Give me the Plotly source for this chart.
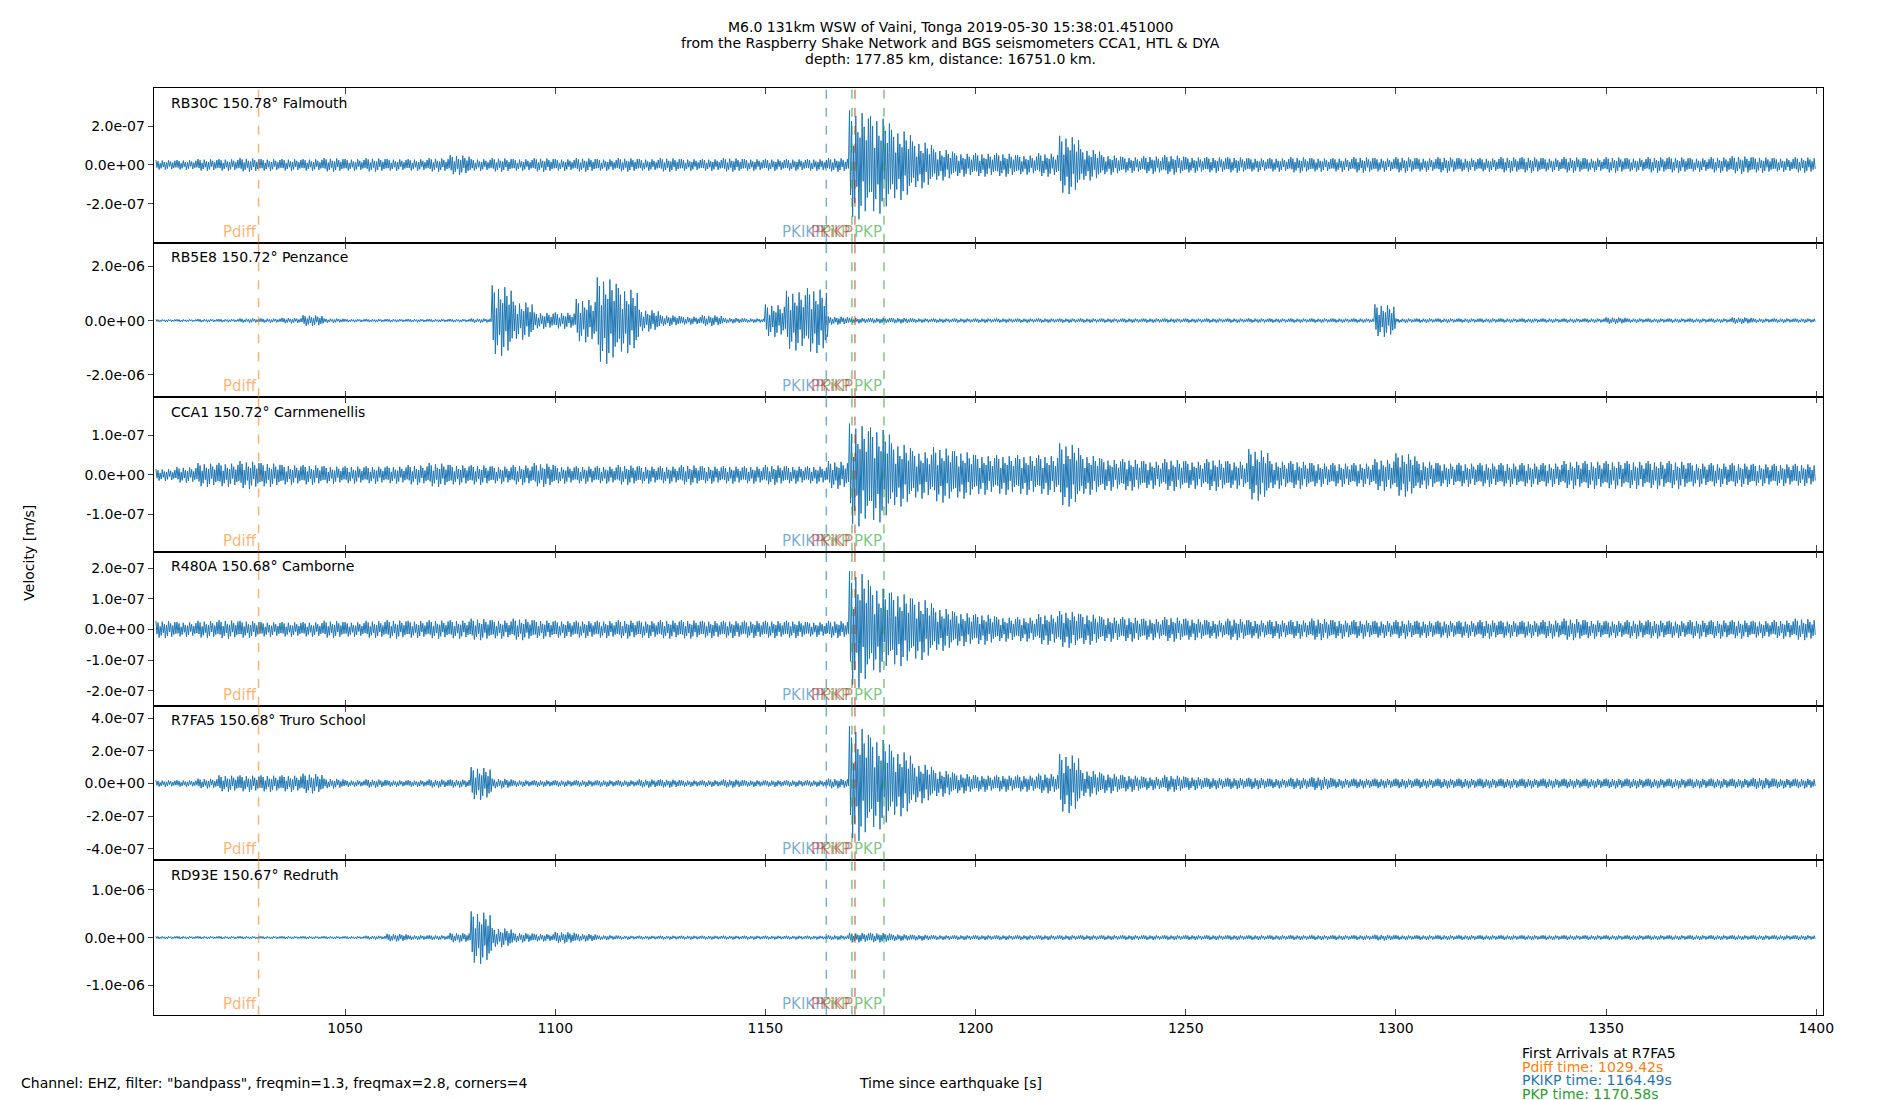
import plotly.graph_objects as go

# station labels
stations = ["RB30C 150.78° Falmouth", "RB5E8 150.72° Penzance", "CCA1 150.72° Carnmenellis",
            "R480A 150.68° Camborne", "R7FA5 150.68° Truro School", "RD93E 150.67° Redruth"]
# amplitude scale per station (m/s) and y ranges
scales = [1e-7, 1e-6, 1e-7, 1e-7, 1e-7, 1e-6]
yranges = [[-4.0e-7, 3.94e-7], [-2.83e-6, 2.88e-6], [-1.94e-7, 1.97e-7],
           [-2.5e-7, 2.54e-7], [-4.7e-7, 4.74e-7], [-1.62e-6, 1.62e-6]]
ytickvals = [[-2e-7, 0, 2e-7], [-2e-6, 0, 2e-6], [-1e-7, 0, 1e-7],
             [-2e-7, -1e-7, 0, 1e-7, 2e-7], [-4e-7, -2e-7, 0, 2e-7, 4e-7], [-1e-6, 0, 1e-6]]
yticktext = [["-2.0e-07", "0.0e+00", "2.0e-07"], ["-2.0e-06", "0.0e+00", "2.0e-06"],
             ["-1.0e-07", "0.0e+00", "1.0e-07"],
             ["-2.0e-07", "-1.0e-07", "0.0e+00", "1.0e-07", "2.0e-07"],
             ["-4.0e-07", "-2.0e-07", "0.0e+00", "2.0e-07", "4.0e-07"],
             ["-1.0e-06", "0.0e+00", "1.0e-06"]]

# envelope amplitudes (in units of scale) read per 5 s bin starting at 1005 s
bin_start = 1005.0
bin_width = 5.0
env1 = [.25,.25,.3,.3,.35,.3,.3,.3,.35,.3, .35,.3,.3,.35,.5,.3,.35,.3,.35,.3,
        .35,.3,.35,.3,.35,.3,.3,.35,.3,.3, .3,.3,.35,2.8,2.5,1.8,1.2,.8,.6,.6,
        .6,.5,.6,1.5,.8,.5,.4,.45,.5,.4, .4,.4,.35,.35,.4,.35,.35,.4,.35,.4,
        .35,.4,.35,.35,.4,.4,.35,.4,.35,.4, .35,.4,.4,.35,.4,.45,.4,.35,.4]
env2 = [.05,.05,.06,.06,.08,.08,.1,.2,.08,.06, .06,.06,.06,.06,.06,.08,1.3,.7,.3,.3,
        .8,1.6,1.2,.4,.2,.15,.2,.1,.08,.6, 1.1,1.2,.15,.1,.1,.1,.08,.08,.08,.08,
        .08,.08,.08,.08,.08,.08,.08,.08,.08,.08, .08,.08,.08,.08,.08,.08,.08,.08,.6,.08,
        .08,.08,.08,.08,.08,.08,.08,.08,.08,.12, .08,.08,.08,.08,.08,.12,.08,.08,.08]
env3 = [.15,.2,.3,.3,.35,.3,.25,.25,.22,.22, .22,.22,.25,.3,.25,.25,.22,.25,.3,.22,
        .22,.22,.25,.22,.22,.25,.22,.22,.22,.25, .22,.22,.35,1.3,1.2,.8,.6,.7,.6,.5,
        .5,.5,.5,.8,.5,.4,.4,.35,.4,.35, .4,.35,.65,.35,.35,.3,.3,.3,.4,.55,
        .35,.3,.3,.3,.3,.3,.3,.35,.35,.35, .35,.35,.35,.3,.3,.3,.28,.28,.28]
env4 = [.28,.24,.28,.3,.28,.24,.24,.24,.28,.24, .28,.3,.28,.3,.3,.35,.3,.35,.3,.28,
        .28,.28,.3,.28,.3,.3,.28,.28,.28,.28, .28,.24,.28,1.9,1.4,1.2,1.0,.7,.55,.5,
        .4,.4,.5,.6,.5,.4,.4,.35,.4,.35, .3,.35,.3,.3,.3,.35,.3,.3,.28,.3,
        .28,.28,.28,.3,.28,.28,.3,.35,.3,.28, .3,.3,.28,.3,.3,.3,.28,.3,.35]
env5 = [.2,.2,.3,.5,.5,.5,.5,.6,.3,.2, .25,.2,.2,.25,.25,1.0,.3,.2,.2,.2,
        .2,.2,.2,.25,.25,.2,.2,.25,.2,.2, .2,.2,.3,3.5,2.8,2.0,1.2,.8,.6,.5,
        .5,.5,.6,1.8,.8,.6,.5,.4,.5,.4, .35,.35,.35,.3,.35,.4,.3,.3,.3,.3,
        .3,.3,.3,.3,.3,.3,.3,.3,.3,.3, .3,.3,.3,.3,.3,.3,.35,.3,.3]
env6 = [.03,.03,.03,.03,.03,.03,.03,.03,.03,.03, .04,.08,.05,.05,.1,.55,.2,.1,.08,.12,
        .08,.05,.04,.04,.04,.04,.04,.04,.04,.04, .04,.04,.05,.1,.1,.07,.06,.05,.05,.05,
        .05,.05,.05,.05,.05,.05,.05,.05,.05,.05, .05,.05,.05,.05,.05,.05,.05,.05,.06,.05,
        .05,.05,.05,.05,.05,.05,.05,.05,.05,.05, .05,.05,.05,.05,.05,.05,.05,.05,.05]
envelopes = [env1, env2, env3, env4, env5, env6]
# oscillation texture within each bin (signed fractions of envelope)
texture = [1.0,-0.55,0.8,-0.95,0.35,-0.7,0.9,-0.4,0.6,-1.0,0.5,-0.75,0.95,-0.3,0.7,-0.85,0.45,-0.6,0.85,-0.5]

# arrivals
phase_names = ["Pdiff", "PKIKP", "PKP", "PKiKP", "PKP"]
phase_times = [1029.42, 1164.49, 1170.58, 1171.3, 1178.2]
phase_colors = ["rgba(255,127,14,0.6)", "rgba(31,119,180,0.6)", "rgba(44,160,44,0.6)",
                "rgba(214,39,40,0.6)", "rgba(44,160,44,0.6)"]
xticks = [1050, 1100, 1150, 1200, 1250, 1300, 1350, 1400]
xrange_ = [1004.5, 1401.5]

fig = go.Figure()
n = len(stations)
top, bottom = 0.927, 0.0847
left, right = 0.0772, 0.9606
h = (top - bottom) / n
layout = {}
annotations = []
shapes = []
for i in range(n):
    xs, ys = [], []
    env = envelopes[i]
    nt = len(texture)
    for k, a in enumerate(env):
        for j in range(nt):
            xs.append(bin_start + k * bin_width + j * bin_width / nt)
            ys.append(a * texture[j] * scales[i])
    ax = "" if i == 0 else str(i + 1)
    fig.add_trace(go.Scatter(x=xs, y=ys, mode="lines", line=dict(color="#1f77b4", width=1),
                             xaxis="x" + ax, yaxis="y" + ax, showlegend=False, hoverinfo="skip"))
    d0 = top - (i + 1) * h
    d1 = top - i * h
    layout["xaxis" + ax] = dict(domain=[left, right], anchor="y" + ax, range=xrange_,
                                tickvals=xticks, showticklabels=(i == n - 1), ticks="inside",
                                ticklen=6, showline=True, linecolor="black", linewidth=1.2,
                                mirror="ticks", showgrid=False, zeroline=False,
                                tickfont=dict(size=14, color="black"))
    layout["yaxis" + ax] = dict(domain=[d0, d1], anchor="x" + ax, range=yranges[i],
                                tickvals=ytickvals[i], ticktext=yticktext[i], ticks="outside",
                                ticklen=5, showline=True, linecolor="black", linewidth=1.2,
                                mirror=True, showgrid=False, zeroline=False,
                                tickfont=dict(size=14, color="black"))
    annotations.append(dict(text=stations[i], x=left + 0.008, y=d1 - 0.004, xref="paper", yref="paper",
                            xanchor="left", yanchor="top", showarrow=False,
                            font=dict(size=14, color="black")))
    for pn, pt, pc in zip(phase_names, phase_times, phase_colors):
        shapes.append(dict(type="line", xref="x" + ax, yref="y" + ax + " domain", x0=pt, x1=pt,
                           y0=0, y1=1, line=dict(color=pc, width=1.5, dash="dash")))
        annotations.append(dict(text=pn, x=pt, y=d0, xref="x" + ax, yref="paper",
                                xanchor="right", yanchor="bottom", showarrow=False,
                                font=dict(size=15, color=pc)))

title_lines = ["M6.0 131km WSW of Vaini, Tonga 2019-05-30 15:38:01.451000",
               "from the Raspberry Shake Network and BGS seismometers CCA1, HTL & DYA",
               "depth: 177.85 km, distance: 16751.0 km."]
for k, t in enumerate(title_lines):
    annotations.append(dict(text=t, x=0.499, y=0.992 - k * 0.0145, xref="paper", yref="paper",
                            showarrow=False, font=dict(size=14, color="black")))
annotations.append(dict(text="Velocity [m/s]", x=0.0054, y=0.505, xref="paper", yref="paper",
                        textangle=-90, showarrow=False, font=dict(size=14, color="black")))
annotations.append(dict(text='Channel: EHZ, filter: "bandpass", freqmin=1.3, freqmax=2.8, corners=4',
                        x=0.006, y=0.023, xref="paper", yref="paper", xanchor="left",
                        yanchor="middle", showarrow=False, font=dict(size=14, color="black")))
annotations.append(dict(text="Time since earthquake [s]", x=0.499, y=0.023, xref="paper",
                        yref="paper", yanchor="middle", showarrow=False,
                        font=dict(size=14, color="black")))
info = [("First Arrivals at R7FA5", "black"), ("Pdiff time: 1029.42s", "#ff7f0e"),
        ("PKIKP time: 1164.49s", "#1f77b4"), ("PKP time: 1170.58s", "#2ca02c")]
for k, (t, c) in enumerate(info):
    annotations.append(dict(text=t, x=0.8005, y=0.050 - k * 0.0123, xref="paper", yref="paper",
                            xanchor="left", yanchor="middle", showarrow=False,
                            font=dict(size=14, color=c)))

fig.update_layout(width=1900, height=1100, margin=dict(l=0, r=0, t=0, b=0),
                  plot_bgcolor="white", paper_bgcolor="white",
                  font=dict(family="DejaVu Sans"), annotations=annotations, shapes=shapes,
                  **layout)
fig.write_html("out.html")
